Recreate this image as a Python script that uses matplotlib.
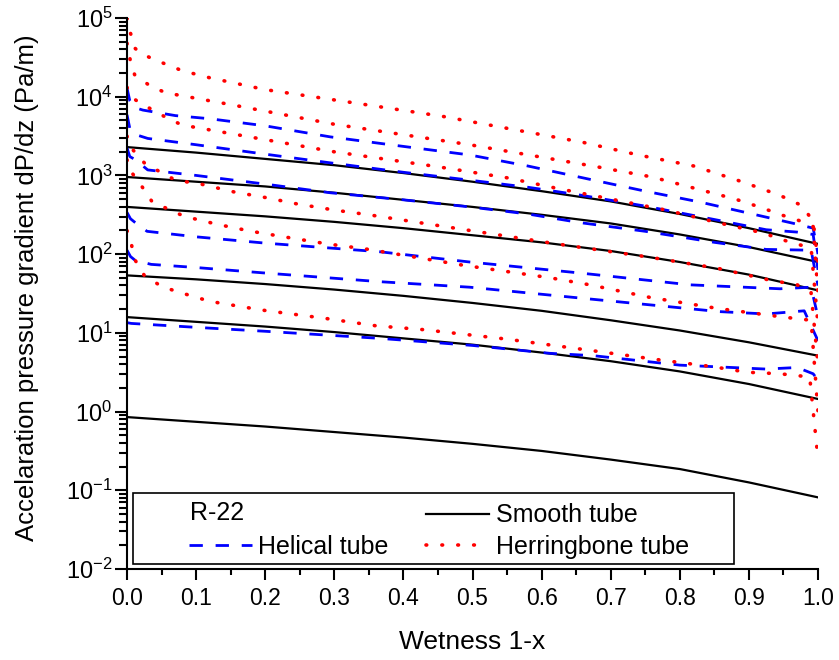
import numpy as np
import matplotlib
matplotlib.use("Agg")
import matplotlib.pyplot as plt
from matplotlib.lines import Line2D
from matplotlib.patches import Rectangle
from matplotlib.ticker import MultipleLocator, LogLocator, NullFormatter, FormatStrFormatter

plt.rcParams['font.family'] = ['Liberation Sans', 'DejaVu Sans']
plt.rcParams['mathtext.default'] = 'regular'

# values, stored as decades (log10 of dP/dz)
smooth_x = [0.0, 0.1, 0.2, 0.3, 0.4, 0.5, 0.6, 0.7, 0.8, 0.9, 1.0]
smooth_1 = [3.36, 3.29, 3.21, 3.13, 3.03, 2.92, 2.80, 2.67, 2.51, 2.33, 2.13]
smooth_2 = [2.98, 2.92, 2.86, 2.78, 2.69, 2.60, 2.50, 2.39, 2.25, 2.09, 1.90]
smooth_3 = [2.60, 2.54, 2.48, 2.41, 2.33, 2.24, 2.15, 2.04, 1.90, 1.74, 1.54]
smooth_4 = [1.73, 1.68, 1.62, 1.55, 1.47, 1.38, 1.28, 1.16, 1.03, 0.88, 0.71]
smooth_5 = [1.20, 1.14, 1.08, 1.01, 0.93, 0.85, 0.75, 0.64, 0.51, 0.35, 0.16]
smooth_6 = [-0.07, -0.13, -0.19, -0.26, -0.33, -0.41, -0.50, -0.61, -0.73, -0.90, -1.09]

helical_x1 = [0, 0.004, 0.012, 0.023, 0.07, 0.12, 0.2, 0.294, 0.39, 0.496, 0.58, 0.67, 0.75, 0.83, 0.90, 0.965, 0.993, 1.0]
helical_1 = [4.11, 3.95, 3.86, 3.83, 3.76, 3.72, 3.63, 3.49, 3.38, 3.26, 3.12, 2.95, 2.80, 2.66, 2.52, 2.39, 2.33, 2.0]
helical_x2 = [0, 0.004, 0.012, 0.03, 0.1, 0.2, 0.294, 0.4, 0.496, 0.58, 0.656, 0.75, 0.85, 0.925, 0.97, 0.993, 1.0]
helical_2 = [3.77, 3.60, 3.52, 3.47, 3.39, 3.27, 3.16, 3.04, 2.94, 2.85, 2.75, 2.61, 2.44, 2.31, 2.28, 2.25, 1.8]
helical_x3 = [0, 0.004, 0.012, 0.03, 0.1, 0.2, 0.294, 0.4, 0.496, 0.58, 0.656, 0.75, 0.85, 0.925, 0.99, 1.0]
helical_3 = [3.35, 3.24, 3.20, 3.07, 3.00, 2.89, 2.78, 2.69, 2.60, 2.51, 2.40, 2.29, 2.15, 2.06, 2.05, 1.6]
helical_x4 = [0, 0.005, 0.012, 0.029, 0.1, 0.2, 0.366, 0.496, 0.656, 0.815, 0.945, 0.99, 1.0]
helical_4 = [2.53, 2.45, 2.40, 2.29, 2.22, 2.14, 2.03, 1.90, 1.76, 1.61, 1.56, 1.58, 1.2]
helical_x5 = [0, 0.005, 0.012, 0.035, 0.1, 0.2, 0.366, 0.496, 0.67, 0.857, 0.925, 0.98, 1.0]
helical_5 = [2.05, 1.97, 1.92, 1.87, 1.83, 1.76, 1.65, 1.58, 1.43, 1.27, 1.24, 1.28, 0.9]
helical_x6 = [0, 0.006, 0.1, 0.2, 0.366, 0.5, 0.612, 0.675, 0.8, 0.925, 0.97, 0.993, 1.0]
helical_6 = [1.13, 1.12, 1.07, 1.02, 0.93, 0.84, 0.74, 0.71, 0.59, 0.54, 0.56, 0.48, 0.40]

herring_x1 = [0, 0.005, 0.011, 0.02, 0.04, 0.08, 0.12, 0.2, 0.33, 0.457, 0.58, 0.66, 0.74, 0.82, 0.89, 0.944, 0.976, 0.993, 1.0]
herring_1 = [5.0, 4.81, 4.62, 4.55, 4.47, 4.33, 4.24, 4.09, 3.92, 3.75, 3.55, 3.42, 3.26, 3.12, 2.92, 2.75, 2.62, 2.42, 1.9]
herring_x2 = [0, 0.005, 0.011, 0.033, 0.056, 0.15, 0.30, 0.496, 0.68, 0.76, 0.82, 0.88, 0.915, 0.95, 0.975, 0.993, 1.0]
herring_2 = [4.68, 4.45, 4.28, 4.14, 4.05, 3.90, 3.65, 3.39, 3.11, 2.98, 2.84, 2.70, 2.60, 2.49, 2.42, 2.35, 1.5]
herring_x3 = [0, 0.006, 0.017, 0.06, 0.08, 0.3, 0.45, 0.55, 0.62, 0.70, 0.78, 0.86, 0.92, 0.96, 0.99, 1.0]
herring_3 = [4.12, 4.0, 3.93, 3.72, 3.64, 3.30, 3.11, 2.97, 2.84, 2.70, 2.56, 2.39, 2.27, 2.15, 2.08, 1.1]
herring_x4 = [0, 0.005, 0.026, 0.07, 0.107, 0.155, 0.2, 0.245, 0.30, 0.35, 0.482, 0.622, 0.757, 0.855, 0.93, 0.97, 0.99, 1.0]
herring_4 = [3.5, 3.36, 3.15, 2.94, 2.89, 2.79, 2.72, 2.64, 2.56, 2.50, 2.32, 2.13, 1.96, 1.82, 1.67, 1.61, 1.51, 0.6]
herring_x5 = [0, 0.004, 0.02, 0.036, 0.06, 0.083, 0.13, 0.18, 0.227, 0.29, 0.35, 0.486, 0.612, 0.67, 0.757, 0.855, 0.95, 0.99, 1.0]
herring_5 = [3.2, 3.07, 2.88, 2.67, 2.57, 2.48, 2.38, 2.29, 2.22, 2.13, 2.06, 1.86, 1.70, 1.61, 1.45, 1.31, 1.20, 1.16, 0.0]
herring_x6 = [0, 0.006, 0.01, 0.025, 0.05, 0.074, 0.12, 0.195, 0.29, 0.36, 0.43, 0.55, 0.685, 0.776, 0.848, 0.897, 0.945, 0.988, 1.0]
herring_6 = [2.3, 2.15, 1.95, 1.73, 1.59, 1.52, 1.40, 1.29, 1.18, 1.09, 1.04, 0.92, 0.76, 0.65, 0.57, 0.50, 0.48, 0.44, -0.6]

smooth = [smooth_1, smooth_2, smooth_3, smooth_4, smooth_5, smooth_6]
helical = [(helical_x1, helical_1), (helical_x2, helical_2), (helical_x3, helical_3),
           (helical_x4, helical_4), (helical_x5, helical_5), (helical_x6, helical_6)]
herring = [(herring_x1, herring_1), (herring_x2, herring_2), (herring_x3, herring_3),
           (herring_x4, herring_4), (herring_x5, herring_5), (herring_x6, herring_6)]

fig = plt.figure(figsize=(8.39, 6.6), dpi=100)
ax = fig.add_axes([127/839, 1 - 569/660, 691/839, 551/660])

solid_kw = dict(color='black', lw=1.6)
dash_kw = dict(color='blue', lw=2.0, dashes=(4.8, 4.6))
dot_kw = dict(color='red', lw=2.6, dashes=(0.2, 4.2), dash_capstyle='round')

for ys in smooth:
    ax.plot(smooth_x, np.power(10.0, ys), **solid_kw)
for xs, ys in helical:
    ax.plot(xs, np.power(10.0, ys), **dash_kw)
for xs, ys in herring:
    ax.plot(xs, np.power(10.0, ys), **dot_kw)

ax.set_xlim(0, 1)
ax.set_yscale('log')
ax.set_ylim(1e-2, 1e5)

ax.xaxis.set_major_locator(MultipleLocator(0.1))
ax.xaxis.set_minor_locator(MultipleLocator(0.05))
ax.xaxis.set_major_formatter(FormatStrFormatter('%.1f'))
ax.yaxis.set_major_locator(LogLocator(base=10, numticks=12))
ax.yaxis.set_minor_locator(LogLocator(base=10, subs=np.arange(2, 10), numticks=12))
ax.yaxis.set_minor_formatter(NullFormatter())

ax.spines['top'].set_visible(False)
ax.spines['right'].set_visible(False)
for s in ['left', 'bottom']:
    ax.spines[s].set_linewidth(1.5)

ax.tick_params(axis='x', which='major', direction='out', length=8, width=1.5, labelsize=16.5, pad=5)
ax.tick_params(axis='x', which='minor', direction='out', length=4, width=1.5)
ax.tick_params(axis='y', which='major', direction='out', length=8.5, width=1.5, labelsize=17, pad=2)
ax.tick_params(axis='y', which='minor', direction='out', length=6, width=1.5)

ax.set_xlabel('Wetness 1-x', fontsize=19)
ax.set_ylabel('Accelaration pressure gradient dP/dz (Pa/m)', fontsize=18.5)
ax.xaxis.set_label_coords(0.5, -0.11)
ax.yaxis.set_label_coords(-0.128, 0.51)

# legend box
ax.add_patch(Rectangle((6/691, 5/551), 601/691, 71/551, transform=ax.transAxes,
                       facecolor='white', edgecolor='black', lw=1.2, zorder=4))

handles = [Line2D([], [], color='none'),
           Line2D([], [], **dash_kw),
           Line2D([], [], **solid_kw),
           Line2D([], [], **dot_kw)]
labels = [' ', 'Helical tube', 'Smooth tube', 'Herringbone tube']
leg = ax.legend(handles, labels, ncol=2, frameon=False, loc='lower left',
                bbox_to_anchor=(62/691, 10/551), borderpad=0, borderaxespad=0,
                fontsize=18, handlelength=2.5, handletextpad=0.28,
                columnspacing=1.5, labelspacing=0.3)
leg.set_zorder(5)
ax.text(63/691, 56/551, 'R-22', transform=ax.transAxes, fontsize=18,
        va='center', ha='left', zorder=6)

fig.savefig('out.png', dpi=100)
